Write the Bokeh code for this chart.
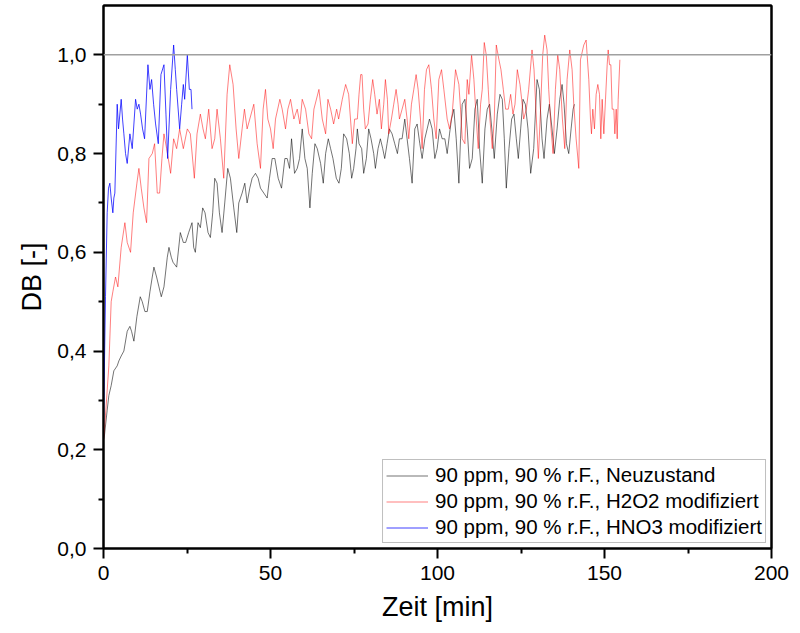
from bokeh.plotting import figure
from bokeh.models import Span, Legend, LegendItem, FixedTicker, CustomJSTickFormatter, Range1d, LinearAxis
from bokeh.embed import file_html
from bokeh.resources import INLINE

# ---------------- data ----------------
x_ticks = [0, 50, 100, 150, 200]
x_tick_labels = ["0", "50", "100", "150", "200"]
x_minor = [25, 75, 125, 175]
y_ticks = [0.0, 0.2, 0.4, 0.6, 0.8, 1.0]
y_tick_labels = ["0,0", "0,2", "0,4", "0,6", "0,8", "1,0"]
y_minor = [0.1, 0.3, 0.5, 0.7, 0.9]

series_labels = ["90 ppm, 90 % r.F., Neuzustand",
                 "90 ppm, 90 % r.F., H2O2 modifiziert",
                 "90 ppm, 90 % r.F., HNO3 modifiziert"]

neu_t = [0.0, 0.3, 1.1, 1.6, 2.3, 3.1, 4.1, 4.6, 5.3, 6.1, 7.1, 7.9, 8.4, 9.1, 10.0, 11.0, 11.6, 12.4,
         13.1, 13.9, 14.6, 15.1, 15.9, 16.6, 17.3, 18.1, 19.1, 19.6, 20.3, 20.8, 21.9, 23.0, 23.9, 24.6,
         25.5, 26.5, 27.0, 27.5, 28.3, 29.0, 29.7, 30.4, 31.3, 32.0, 32.7, 33.3, 34.0, 34.7, 35.5, 36.3,
         37.2, 38.0, 39.0, 39.9, 40.5, 41.5, 42.3, 43.0, 43.8, 44.5, 45.5, 46.3, 47.0, 48.0, 49.0, 49.7,
         50.5, 51.3, 52.3, 53.3, 54.3, 55.0, 55.7, 56.3, 57.2, 58.0, 58.7, 59.5, 60.3, 61.0, 61.8, 62.5,
         63.3, 64.0, 65.0, 65.8, 66.5, 67.3, 68.0, 68.7, 69.7, 70.5, 71.2, 71.9, 72.8, 73.6, 74.3, 74.9,
         75.6, 76.0, 76.5, 77.3, 77.9, 78.7, 79.4, 80.1, 80.9, 81.4, 82.2, 82.9, 83.6, 84.2, 84.9, 85.6,
         86.4, 87.2, 88.0, 88.6, 89.4, 90.2, 90.9, 91.6, 92.4, 93.2, 93.9, 94.7, 95.4, 96.2, 96.9, 97.6,
         98.4, 99.2, 99.9, 100.6, 101.4, 102.2, 102.9, 103.6, 104.2, 104.9, 105.6, 106.4, 106.9, 107.4,
         108.2, 108.9, 109.6, 110.4, 111.2, 111.9, 112.6, 113.4, 114.2, 114.9, 115.6, 116.4, 117.0,
         117.9, 118.7, 119.4, 120.0, 120.6, 121.4, 122.2, 122.9, 123.6, 124.2, 124.9, 125.6, 126.3,
         127.1, 127.9, 128.8, 129.8, 130.5, 131.3, 131.9, 132.8, 133.5, 134.3, 135.0, 135.8, 136.6,
         137.3, 137.9, 138.6, 139.3, 140.0, 140.6, 141.0]
neu_v = [0.22, 0.23, 0.28, 0.31, 0.33, 0.36, 0.37, 0.38, 0.39, 0.40, 0.44, 0.45, 0.44, 0.42, 0.47, 0.51,
         0.50, 0.48, 0.48, 0.52, 0.55, 0.57, 0.55, 0.53, 0.51, 0.53, 0.59, 0.61, 0.59, 0.58, 0.57, 0.64,
         0.62, 0.62, 0.64, 0.66, 0.61, 0.60, 0.66, 0.65, 0.69, 0.68, 0.64, 0.63, 0.68, 0.75, 0.74, 0.68,
         0.64, 0.70, 0.77, 0.75, 0.69, 0.64, 0.70, 0.72, 0.74, 0.70, 0.73, 0.75, 0.76, 0.75, 0.73, 0.72,
         0.71, 0.75, 0.79, 0.79, 0.75, 0.73, 0.79, 0.79, 0.77, 0.83, 0.76, 0.77, 0.79, 0.85, 0.79, 0.77,
         0.69, 0.76, 0.82, 0.81, 0.78, 0.74, 0.80, 0.83, 0.81, 0.79, 0.75, 0.74, 0.77, 0.84, 0.83, 0.80,
         0.75, 0.77, 0.81, 0.85, 0.82, 0.81, 0.76, 0.79, 0.85, 0.83, 0.80, 0.77, 0.81, 0.83, 0.81, 0.79,
         0.82, 0.85, 0.84, 0.82, 0.80, 0.83, 0.83, 0.87, 0.83, 0.79, 0.74, 0.85, 0.86, 0.82, 0.79, 0.83,
         0.85, 0.87, 0.85, 0.79, 0.81, 0.85, 0.83, 0.83, 0.80, 0.84, 0.87, 0.89, 0.83, 0.74, 0.83, 0.90,
         0.91, 0.85, 0.77, 0.79, 0.89, 0.91, 0.81, 0.74, 0.85, 0.89, 0.90, 0.84, 0.79, 0.88, 0.92, 0.91,
         0.83, 0.73, 0.81, 0.87, 0.88, 0.83, 0.79, 0.85, 0.91, 0.90, 0.85, 0.76, 0.81, 0.95, 0.93, 0.83,
         0.79, 0.87, 0.90, 0.85, 0.80, 0.85, 0.91, 0.94, 0.90, 0.82, 0.80, 0.85, 0.89, 0.90]

h2o2_t = [0.0, 0.6, 1.6, 2.3, 2.8, 3.6, 4.3, 5.3, 6.4, 7.1, 8.1, 8.9, 10.0, 10.6, 11.3, 12.1, 12.9, 13.6,
          14.6, 15.3, 16.1, 16.8, 17.5, 18.1, 18.9, 19.4, 20.1, 21.0, 21.9, 22.8, 23.9, 25.1, 26.0, 27.2,
          28.0, 29.0, 29.8, 30.5, 31.5, 32.5, 33.3, 34.0, 35.0, 36.0, 37.0, 37.8, 38.8, 39.7, 40.5, 41.5,
          42.2, 43.0, 43.8, 45.0, 46.0, 47.0, 47.8, 48.5, 49.2, 50.0, 50.8, 51.5, 52.8, 53.5, 54.5, 55.2,
          56.0, 57.0, 58.0, 58.8, 59.5, 60.5, 61.5, 62.3, 63.0, 64.5, 65.5, 66.5, 67.2, 68.0, 68.9, 69.8,
          70.4, 71.5, 72.5, 73.4, 74.5, 75.2, 76.0, 76.5, 77.0, 77.4, 77.9, 78.4, 79.2, 79.9, 80.6, 81.2,
          81.9, 82.6, 83.2, 83.9, 84.4, 85.0, 85.4, 86.2, 86.9, 87.6, 88.2, 88.6, 89.4, 90.2, 90.9, 91.4,
          92.2, 92.9, 93.6, 94.2, 94.9, 95.4, 96.1, 96.7, 97.4, 98.2, 98.9, 99.6, 100.4, 101.2, 101.9,
          102.9, 103.6, 104.4, 105.4, 106.4, 106.9, 107.4, 108.2, 108.9, 109.4, 110.2, 110.9, 111.6,
          112.2, 112.9, 113.4, 114.0, 114.6, 115.2, 115.7, 116.4, 117.0, 117.6, 118.4, 119.0, 119.7,
          120.4, 121.2, 121.9, 122.6, 123.2, 123.9, 124.7, 125.2, 125.8, 126.6, 127.3, 128.3, 128.9,
          129.6, 130.2, 130.8, 131.5, 132.1, 132.8, 133.3, 134.0, 134.6, 135.3, 136.0, 136.6, 137.4,
          138.1, 138.8, 139.6, 140.3, 140.8, 141.5, 142.3, 142.8, 143.8, 144.5, 145.3, 145.8, 146.1,
          146.5, 147.0, 147.5, 148.0, 148.5, 148.9, 149.3, 149.8, 150.3, 150.8, 151.1, 151.5, 151.9,
          152.3, 152.8, 153.1, 153.5, 153.8, 154.1, 154.6]
h2o2_v = [0.22, 0.27, 0.37, 0.50, 0.52, 0.55, 0.53, 0.61, 0.66, 0.62, 0.60, 0.68, 0.74, 0.77, 0.73, 0.69,
          0.66, 0.79, 0.80, 0.82, 0.72, 0.72, 0.79, 0.84, 0.81, 0.79, 0.76, 0.83, 0.81, 0.85, 0.81, 0.85,
          0.84, 0.75, 0.84, 0.88, 0.85, 0.83, 0.89, 0.81, 0.83, 0.89, 0.83, 0.75, 0.92, 0.98, 0.94, 0.85,
          0.79, 0.85, 0.89, 0.85, 0.87, 0.90, 0.82, 0.77, 0.89, 0.93, 0.87, 0.85, 0.81, 0.87, 0.91, 0.89,
          0.85, 0.89, 0.91, 0.87, 0.89, 0.86, 0.91, 0.89, 0.84, 0.83, 0.89, 0.93, 0.87, 0.84, 0.91, 0.89,
          0.86, 0.89, 0.87, 0.91, 0.94, 0.92, 0.82, 0.87, 0.87, 0.92, 0.96, 0.96, 0.89, 0.85, 0.86, 0.91,
          0.95, 0.92, 0.88, 0.91, 0.85, 0.90, 0.95, 0.91, 0.84, 0.87, 0.90, 0.93, 0.90, 0.87, 0.89, 0.91,
          0.87, 0.83, 0.90, 0.93, 0.96, 0.93, 0.87, 0.81, 0.93, 0.97, 0.98, 0.93, 0.87, 0.83, 0.95, 0.97,
          0.93, 0.87, 0.85, 0.88, 0.97, 0.94, 0.89, 0.83, 0.82, 0.95, 0.92, 1.00, 0.95, 0.87, 0.81, 0.90,
          0.93, 1.025, 1.00, 0.93, 0.87, 0.81, 0.87, 1.02, 0.99, 0.97, 0.93, 0.89, 0.89, 0.92, 0.88, 0.90,
          0.97, 0.94, 0.91, 0.87, 0.89, 0.93, 1.01, 0.97, 0.87, 0.79, 0.88, 1.00, 1.04, 1.01, 0.93, 0.85,
          0.80, 0.93, 1.00, 0.97, 0.87, 0.81, 0.95, 1.01, 0.97, 0.90, 0.83, 0.77, 0.99, 1.02, 1.03, 0.95,
          0.87, 0.84, 0.89, 0.85, 0.92, 0.94, 0.92, 0.83, 0.91, 0.84, 0.91, 0.98, 1.01, 0.98, 0.98, 0.89,
          0.89, 0.84, 0.89, 0.83, 0.91, 0.99]

hno3_t = [0.0, 0.6, 1.1, 1.5, 1.9, 2.3, 2.8, 3.1, 3.4, 4.1, 4.5, 5.3, 5.7, 6.1, 6.6, 7.1, 7.9, 8.6, 9.6,
          10.1, 10.6, 11.1, 11.7, 12.3, 13.3, 13.9, 14.4, 15.0, 15.6, 16.4, 17.2, 18.1, 18.7, 19.2, 20.1,
          21.0, 21.5, 21.9, 22.8, 23.4, 23.9, 24.3, 25.1, 25.7, 26.2, 26.5]
hno3_v = [0.25, 0.51, 0.68, 0.73, 0.74, 0.71, 0.68, 0.71, 0.72, 0.90, 0.85, 0.91, 0.87, 0.84, 0.80, 0.78,
          0.84, 0.81, 0.91, 0.89, 0.90, 0.88, 0.85, 0.83, 0.98, 0.93, 0.95, 0.90, 0.86, 0.82, 0.96, 0.98,
          0.88, 0.79, 0.93, 1.02, 0.97, 0.93, 0.85, 0.90, 0.94, 0.91, 1.00, 0.93, 0.93, 0.89]

# ---------------- figure ----------------
FONT = "Liberation Sans"

p = figure(width=800, height=633, output_backend="svg", toolbar_location=None,
           x_range=Range1d(0, 200), y_range=Range1d(0, 1.1),
           min_border_left=103, min_border_right=29, min_border_top=5, min_border_bottom=85)

p.xgrid.visible = False
p.ygrid.visible = False
p.outline_line_color = "black"
p.outline_line_alpha = 1.0
p.outline_line_width = 2
p.background_fill_color = "white"
p.border_fill_color = "white"

ref = Span(location=1.0, dimension="width", line_color="#a0a0a0", line_width=1.5)
p.add_layout(ref)

r_neu = p.line(neu_t, neu_v, line_color="black", line_alpha=0.55, line_width=1)
r_h2o2 = p.line(h2o2_t, h2o2_v, line_color="#ff0000", line_alpha=0.5, line_width=1)
r_hno3 = p.line(hno3_t, hno3_v, line_color="#0000ff", line_alpha=0.75, line_width=1)

# axes
FMT_CODE = """
let b = 0;
for (let i = 0; i < tv.length; i++) { if (Math.abs(tv[i] - tick) < Math.abs(tv[b] - tick)) b = i; }
return lab[b];
"""
p.xaxis.ticker = FixedTicker(ticks=x_ticks, minor_ticks=x_minor)
p.yaxis.ticker = FixedTicker(ticks=y_ticks, minor_ticks=y_minor)
p.xaxis.formatter = CustomJSTickFormatter(args=dict(tv=x_ticks, lab=x_tick_labels), code=FMT_CODE)
p.yaxis.formatter = CustomJSTickFormatter(args=dict(tv=y_ticks, lab=y_tick_labels), code=FMT_CODE)

for ax in (p.xaxis[0], p.yaxis[0]):
    ax.axis_line_color = "black"
    ax.axis_line_width = 2
    ax.major_tick_line_color = "black"
    ax.major_tick_line_width = 2
    ax.minor_tick_line_color = "black"
    ax.minor_tick_line_width = 2
    ax.major_tick_out = 10
    ax.major_tick_in = 0
    ax.minor_tick_out = 5
    ax.minor_tick_in = 0
    ax.major_label_text_font = FONT
    ax.major_label_text_font_size = "21px"
    ax.major_label_text_color = "black"
    ax.axis_label_text_font = FONT
    ax.axis_label_text_font_size = "27px"
    ax.axis_label_text_font_style = "normal"
    ax.axis_label_text_color = "black"
    ax.major_label_standoff = 7

p.xaxis.axis_label = "Zeit [min]"
p.yaxis.axis_label = "DB [-]"
p.xaxis.axis_label_standoff = 9
p.yaxis.axis_label_standoff = 7

# plain frame lines on top and right (no ticks, no labels)
for side in ("above", "right"):
    fr = LinearAxis(ticker=FixedTicker(ticks=[]), axis_line_color="black", axis_line_width=2,
                    major_tick_out=0, major_tick_in=0, minor_tick_out=0, minor_tick_in=0,
                    major_label_standoff=0)
    p.add_layout(fr, side)

legend = Legend(items=[LegendItem(label=series_labels[0], renderers=[r_neu]),
                       LegendItem(label=series_labels[1], renderers=[r_h2o2]),
                       LegendItem(label=series_labels[2], renderers=[r_hno3])],
                location="bottom_right")
legend.label_text_font = FONT
legend.label_text_font_size = "20.5px"
legend.label_text_color = "black"
legend.border_line_color = "#808080"
legend.border_line_width = 1
legend.background_fill_alpha = 1
legend.glyph_width = 42
legend.glyph_height = 21
legend.label_height = 21
legend.label_standoff = 7
legend.padding = 3
legend.spacing = 2
legend.margin = 5
p.add_layout(legend)

open("out.html", "w").write(file_html(p, INLINE))
